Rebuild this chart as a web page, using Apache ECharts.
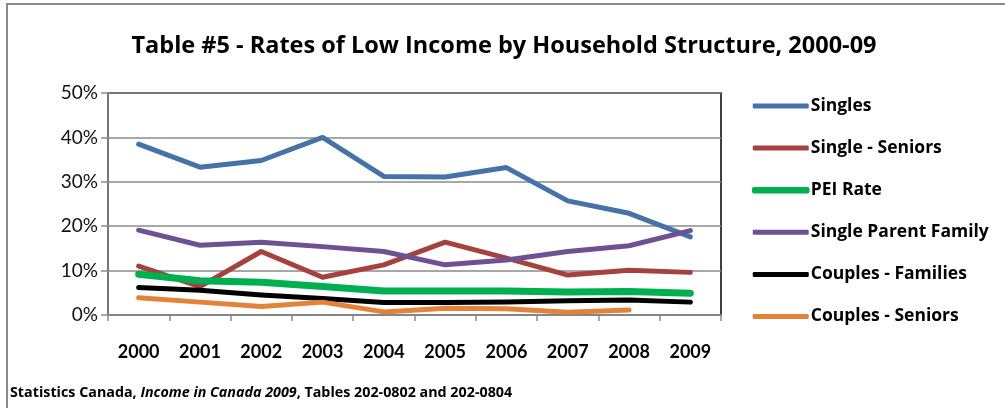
<!DOCTYPE html>
<html>
<head>
<meta charset="utf-8">
<script src="https://cdn.jsdelivr.net/npm/echarts@6/dist/echarts.min.js"></script>
<style>
  html, body { margin: 0; padding: 0; background: #fff; }
  #chart { width: 1005px; height: 408px; }
</style>
</head>
<body>
<div id="chart"></div>
<script>
// Low-income rates by household structure, PEI, 2000-2009 (percent)
const years = ['2000', '2001', '2002', '2003', '2004', '2005', '2006', '2007', '2008', '2009'];
const singles          = [38.5, 33.3, 34.8, 40.0, 31.2, 31.1, 33.2, 25.7, 22.9, 17.6];
const singleSeniors    = [11.0, 6.4, 14.3, 8.5, 11.3, 16.4, 12.8, 9.0, 10.1, 9.6];
const peiRate          = [9.2, 7.7, 7.4, 6.4, 5.4, 5.4, 5.4, 5.2, 5.3, 4.9];
const singleParent     = [19.1, 15.7, 16.4, 15.4, 14.3, 11.3, 12.4, 14.3, 15.6, 19.0];
const couplesFamilies  = [6.2, 5.6, 4.5, 3.7, 2.8, 2.8, 2.9, 3.2, 3.4, 2.9];
const couplesSeniors   = [3.9, 2.9, 1.9, 2.9, 0.7, 1.5, 1.4, 0.6, 1.1, null];
const yTicks = [0, 10, 20, 30, 40, 50];

const seriesDefs = [
  { name: 'Singles',              data: singles,         color: '#4572a7', width: 5 },
  { name: 'Single - Seniors',     data: singleSeniors,   color: '#a5413e', width: 5 },
  { name: 'PEI Rate',             data: peiRate,         color: '#00b050', width: 7 },
  { name: 'Single Parent Family', data: singleParent,    color: '#6e5191', width: 5 },
  { name: 'Couples - Families',   data: couplesFamilies, color: '#000000', width: 5 },
  { name: 'Couples - Seniors',    data: couplesSeniors,  color: '#e3833a', width: 5 }
];

const chart = echarts.init(document.getElementById('chart'));
const axisFont = 'Lato, "Open Sans", sans-serif';
const textFont = '"Open Sans", Lato, sans-serif';

chart.setOption({
  animation: false,
  textStyle: { fontFamily: textFont },
  title: {
    text: 'Table #5 - Rates of Low Income by Household Structure, 2000-09',
    left: 499, top: 29, textAlign: 'center',
    textStyle: { fontFamily: textFont, fontSize: 23.5, fontWeight: 'bold', color: '#000' }
  },
  graphic: [
    { type: 'rect', shape: { x: 7, y: 4, width: 1010, height: 420 },
      style: { fill: 'none', stroke: '#8a8a8a', lineWidth: 2 }, silent: true, z: -1 },
    { type: 'text', left: 10, top: 386,
      style: {
        text: '{b|Statistics Canada, }{i|Income in Canada 2009}{b|, Tables 202-0802 and 202-0804}',
        rich: {
          b: { fontFamily: textFont, fontSize: 14.3, fontWeight: 'bold', fill: '#000' },
          i: { fontFamily: textFont, fontSize: 14.3, fontWeight: 'bold', fontStyle: 'italic', fill: '#000' }
        }
      }
    }
  ],
  legend: {
    orient: 'vertical',
    left: 752, top: 95, padding: 0,
    itemWidth: 56, itemHeight: 5, itemGap: 20.1,
    icon: 'roundRect',
    textStyle: { fontFamily: textFont, fontSize: 17.5, lineHeight: 22, fontWeight: 'bold', color: '#000', padding: [0, 0, 0, -3] },
    data: seriesDefs.map(s => ({
      name: s.name,
      itemStyle: s.width > 5 ? { borderColor: s.color, borderWidth: 1.5 } : { borderWidth: 0 }
    }))
  },
  grid: {
    left: 108, top: 93, width: 613, height: 222,
    show: true, borderColor: '#000', borderWidth: 1.5, backgroundColor: '#fff'
  },
  xAxis: {
    type: 'category',
    data: years,
    boundaryGap: true,
    axisLine: { lineStyle: { color: '#8a8a8a', width: 1.5 } },
    axisTick: { show: true, length: 6, lineStyle: { color: '#8a8a8a', width: 1.5 } },
    axisLabel: { margin: 28, fontFamily: axisFont, fontSize: 18, fontWeight: 'bold', color: '#000' }
  },
  yAxis: {
    type: 'value',
    min: yTicks[0], max: yTicks[yTicks.length - 1], interval: 10,
    axisLine: { show: true, lineStyle: { color: '#8a8a8a', width: 1.5 } },
    axisTick: { show: true, length: 7, lineStyle: { color: '#8a8a8a', width: 1.5 } },
    splitLine: { lineStyle: { color: '#8a8a8a', width: 1.5 } },
    axisLabel: { margin: 10, fontFamily: axisFont, fontSize: 19, color: '#111', formatter: '{value}%' }
  },
  series: seriesDefs.map(s => ({
    name: s.name,
    type: 'line',
    data: s.data,
    symbol: 'none',
    connectNulls: false,
    color: s.color,
    itemStyle: { color: s.color },
    lineStyle: { color: s.color, width: s.width, cap: 'round', join: 'round' }
  }))
});
</script>
</body>
</html>
